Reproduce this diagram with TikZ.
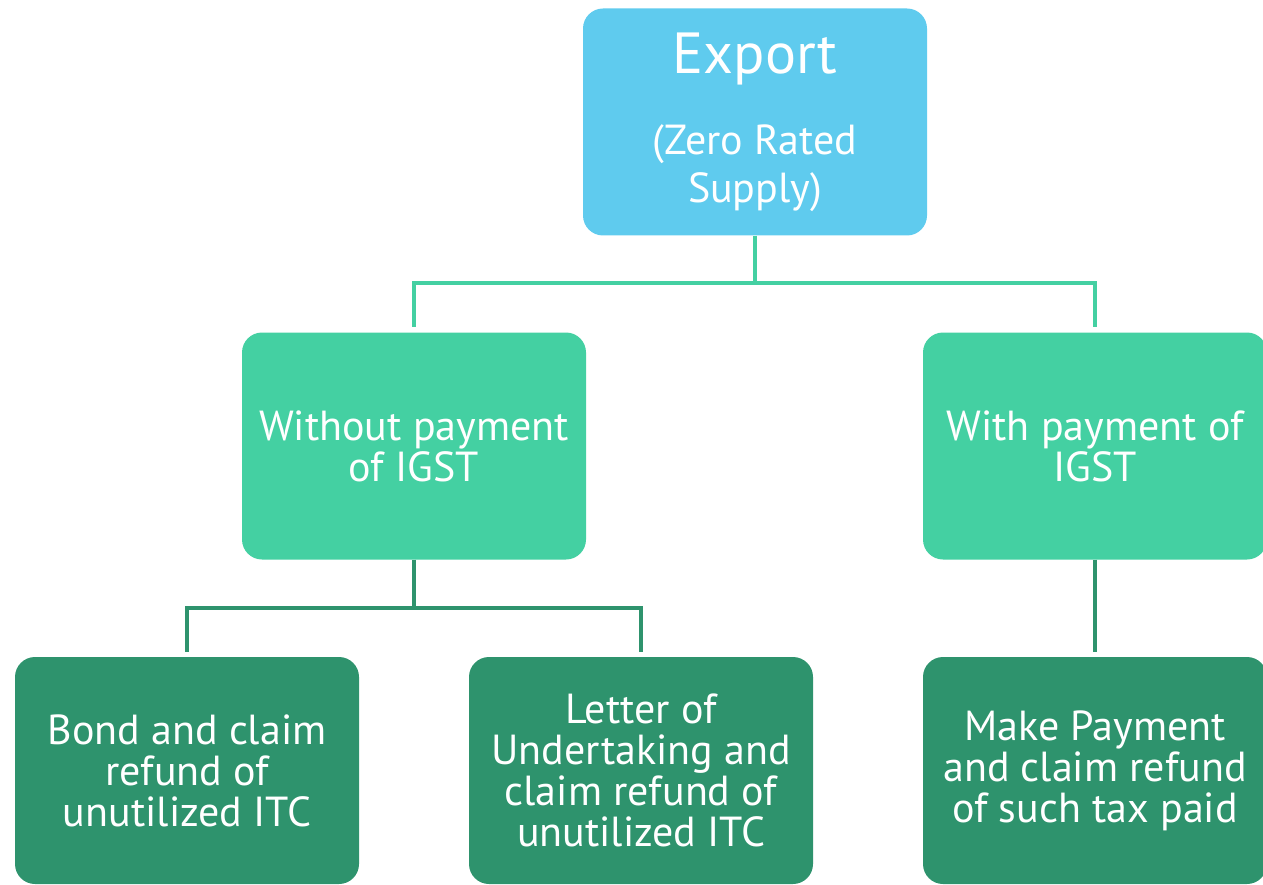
\documentclass[tikz,border=0pt]{standalone}
\usepackage{fontspec}
\setmainfont{PT Sans}
\definecolor{exportblue}{RGB}{95,203,238}
\definecolor{midgreen}{RGB}{68,208,162}
\definecolor{darkgreen}{RGB}{46,147,109}
\tikzset{
    box/.style={rounded corners=20pt, minimum width=344pt, minimum height=227pt,
        align=center, text=white, inner sep=0pt},
    boxfont/.style={font=\fontsize{42}{41}\selectfont},
    midline/.style={line width=4pt, midgreen},
    lowline/.style={line width=4pt, darkgreen}
}
\begin{document}
\begin{tikzpicture}[x=1pt, y=-1pt]

            \useasboundingbox (0,0) rectangle (1263,885);
            \clip (0,0) rectangle (1263,885);

            % Top box
            \node[box, fill=exportblue, font=\fontsize{42}{48}\selectfont] (export) at (755,122)
                {\fontsize{58}{60}\selectfont Export\\[33pt]
                 (Zero Rated\\Supply)};

            % Middle boxes
            \node[box, boxfont, fill=midgreen] (without) at (414,446)
                {Without payment\\of IGST};
            \node[box, boxfont, fill=midgreen] (with) at (1095,446)
                {With payment of\\IGST};

            % Bottom boxes
            \node[box, boxfont, fill=darkgreen] (bond) at (187,770.5)
                {Bond and claim\\refund of\\unutilized ITC};
            \node[box, boxfont, fill=darkgreen] (letter) at (641,770.5)
                {Letter of\\Undertaking and\\claim refund of\\unutilized ITC};
            \node[box, boxfont, fill=darkgreen] (make) at (1095,770.5)
                {Make Payment\\and claim refund\\of such tax paid};

            % Upper connectors
            \coordinate (topfork) at (755,283);
            \draw[midline] (export.south) -- (topfork);
            \draw[midline, shorten >=5pt] (topfork) -| (without.north);
            \draw[midline, shorten >=5pt] (topfork) -| (with.north);

            % Lower connectors
            \coordinate (lowfork) at (414,608);
            \draw[lowline] (without.south) -- (lowfork);
            \draw[lowline, shorten >=5pt] (lowfork) -| (bond.north);
            \draw[lowline, shorten >=5pt] (lowfork) -| (letter.north);
            \draw[lowline, shorten >=5pt] (with.south) -- (make.north);

        \end{tikzpicture}
\end{document}
